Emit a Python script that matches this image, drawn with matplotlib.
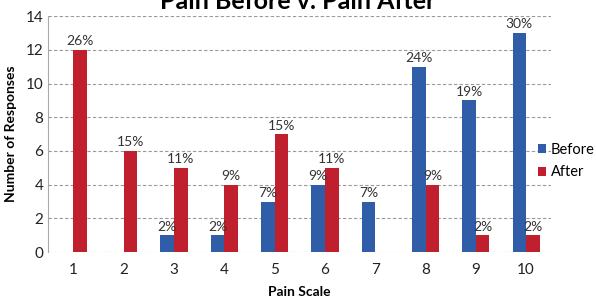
import matplotlib
matplotlib.use("Agg")
import matplotlib.pyplot as plt
import numpy as np

plt.rcParams['font.family'] = ['Lato', 'DejaVu Sans']

categories = ['1', '2', '3', '4', '5', '6', '7', '8', '9', '10']
before = [0, 0, 1, 1, 3, 4, 3, 11, 9, 13]
after = [12, 6, 5, 4, 7, 5, 0, 4, 1, 1]
before_labels = ['', '', '2%', '2%', '7%', '9%', '7%', '24%', '19%', '30%']
after_labels = ['26%', '15%', '11%', '9%', '15%', '11%', '', '9%', '2%', '2%']

fig = plt.figure(figsize=(5.96, 2.98), dpi=100)
ax = fig.add_axes([0.081, 0.154, 0.844, 0.792])

x = np.arange(len(categories))
w = 0.27
blue = '#2F5DA8'
red = '#C0202E'
b1 = ax.bar(x - w/2, before, w, color=blue, label='Before', zorder=3)
b2 = ax.bar(x + w/2, after, w, color=red, label='After', zorder=3)
for rect, lab in zip(b1, before_labels):
    if lab:
        ax.text(rect.get_x() + rect.get_width()/2, rect.get_height() + 0.15, lab,
                ha='center', va='bottom', fontsize=10, color='#333333')
for rect, lab in zip(b2, after_labels):
    if lab:
        ax.text(rect.get_x() + rect.get_width()/2, rect.get_height() + 0.15, lab,
                ha='center', va='bottom', fontsize=10, color='#333333')

ax.set_xlim(-0.5, len(categories) - 0.5)
ax.set_ylim(0, 14)
ax.set_yticks(range(0, 15, 2))
ax.set_xticks(x)
ax.set_xticklabels(categories)
ax.tick_params(axis='both', length=0, labelsize=11, colors='#222222')
ax.tick_params(axis='x', pad=8)
ax.yaxis.grid(True, linestyle=(0, (3, 2)), color='#999999', linewidth=0.8, zorder=0)
for s in ['top', 'right', 'bottom']:
    ax.spines[s].set_visible(False)
ax.spines['left'].set_color('#aaaaaa')
ax.set_xlabel('Pain Scale', fontsize=10, fontweight='bold', labelpad=6)
ax.set_ylabel('Number of Responses', fontsize=10, fontweight='bold', labelpad=6)

fig.text(0.5, 0.995, 'Pain Before v. Pain After', ha='center', va='center',
         fontsize=18, fontweight='bold')

fig.legend(handles=[b1, b2], labels=['Before', 'After'], loc='center left',
           bbox_to_anchor=(0.902, 0.46), frameon=False, fontsize=10.5,
           borderpad=0, borderaxespad=0,
           handlelength=0.6, handleheight=0.6, handletextpad=0.3, labelspacing=0.6)

fig.savefig('out.png', dpi=100)
